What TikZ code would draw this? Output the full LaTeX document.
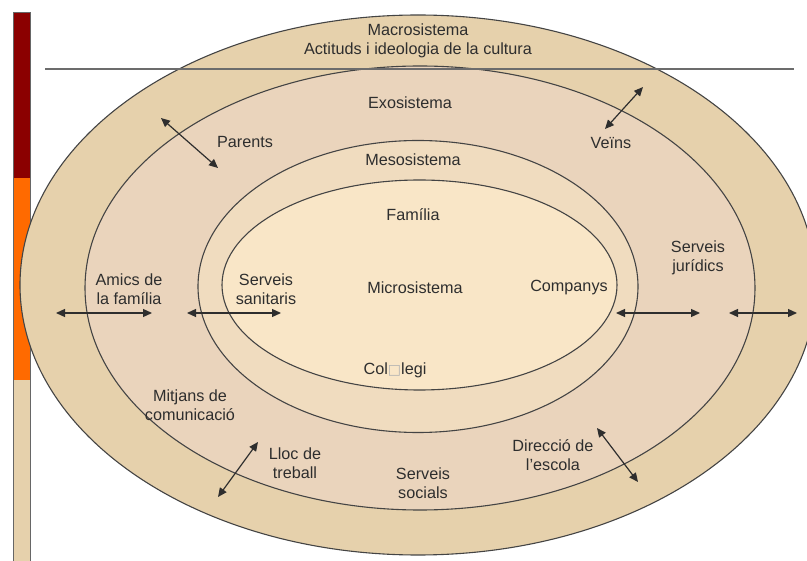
\documentclass[tikz,border=0pt]{standalone}
\usepackage{fontspec}
\setmainfont{Liberation Sans}
\newfontfamily\symfont{DejaVu Sans}
\usetikzlibrary{arrows.meta}
\definecolor{macroC}{HTML}{E6D1AC}
\definecolor{exoC}{HTML}{EAD4BC}
\definecolor{mesoC}{HTML}{F0DCBF}
\definecolor{microC}{HTML}{F9E6C7}
\definecolor{ringC}{HTML}{444444}
\definecolor{txtC}{HTML}{2E2E2E}
\definecolor{barRed}{HTML}{8B0000}
\definecolor{barOrange}{HTML}{FF6A00}
\tikzset{
  ring/.style={draw=ringC, line width=1.1pt},
  lbl/.style={text=txtC, align=center, font=\fontsize{16.2}{18.5}\selectfont, inner sep=0pt},
  dblarrow/.style={draw=txtC, line width=1.2pt, {Triangle[length=9pt,width=8pt]}-{Triangle[length=9pt,width=8pt]}},
  barseg/.style={draw=gray!80!black, line width=0.8pt}
}
\begin{document}
\begin{tikzpicture}[x=1pt,y=-1pt]
\useasboundingbox (0,0) rectangle (807,561);
\clip (0,0) rectangle (807,561);
% left bar
\fill[barRed] (13,12) rectangle (30,178);
\fill[barOrange] (13,178) rectangle (30,380);
\fill[macroC] (13,380) rectangle (30,561);
\draw[barseg] (13,12) rectangle (30,565);
% ellipses
\draw[ring, fill=macroC] (418,285) ellipse [x radius=398, y radius=270];
\draw[ring, fill=exoC] (420,288) ellipse [x radius=335, y radius=222];
\draw[ring, fill=mesoC] (418,286.5) ellipse [x radius=220, y radius=146];
\draw[ring, fill=microC] (419.5,285) ellipse [x radius=197.5, y radius=105];
% horizontal line
\draw[gray!85!black, line width=1.3pt] (45,69) -- (794,69);
% labels
\node[lbl] (macro) at (418,41) {Macrosistema\\Actituds i ideologia de la cultura};
\node[lbl] (exo) at (410,103) {Exosistema};
\node[lbl] (parents) at (245,142) {Parents};
\node[lbl] (veins) at (611,143) {Veïns};
\node[lbl] (meso) at (413,160) {Mesosistema};
\node[lbl] (familia) at (413,215) {Família};
\node[lbl] (juridics) at (698,258) {Serveis\\jurídics};
\node[lbl] (amics) at (129,289) {Amics de\\la família};
\node[lbl] (sanitaris) at (266,289) {Serveis\\sanitaris};
\node[lbl] (micro) at (415,288) {Microsistema};
\node[lbl] (companys) at (569,288) {Companys};
\node[lbl] (collegi) at (395,370) {Col{\symfont\color{gray!60}\fontsize{14}{15}\selectfont □}legi};
\node[lbl] (mitjans) at (190,405) {Mitjans de\\comunicació};
\node[lbl] (lloc) at (295,463) {Lloc de\\treball};
\node[lbl] (socials) at (423,483) {Serveis\\socials};
\node[lbl] (direccio) at (553,455) {Direcció de\\l’escola};
% arrow end points
\coordinate (a1) at (56,313);  \coordinate (b1) at (152,313);
\coordinate (a2) at (187,313); \coordinate (b2) at (281,313);
\coordinate (a3) at (616,313); \coordinate (b3) at (700,313);
\coordinate (a4) at (729,313); \coordinate (b4) at (797,313);
\coordinate (a5) at (161,118); \coordinate (b5) at (218,168);
\coordinate (a6) at (643,87);  \coordinate (b6) at (605,129);
\coordinate (a7) at (258,442); \coordinate (b7) at (218,497);
\coordinate (a8) at (597,428); \coordinate (b8) at (638,482);
\foreach \i in {1,...,8} {\draw[dblarrow] (a\i) -- (b\i);}
\end{tikzpicture}
\end{document}
